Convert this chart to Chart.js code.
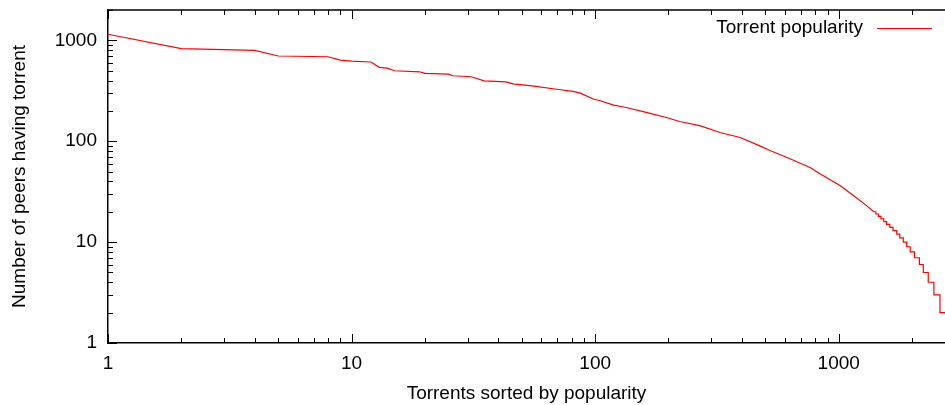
<!DOCTYPE html>
<html>
<head>
<meta charset="utf-8">
<script src="https://cdn.jsdelivr.net/npm/chart.js@4.4.1/dist/chart.umd.min.js"></script>
<style>
  html, body { margin: 0; padding: 0; background: #fff; }
  #wrap { width: 945px; height: 405px; }
</style>
</head>
<body>
<div id="wrap"><canvas id="popChart" width="945" height="405"></canvas></div>
<script>
// torrent rank (x) and number of peers (y)
const ranks = [1, 2, 4, 5, 8, 9, 10, 12, 13, 14, 15, 19, 20, 25, 26, 31, 35, 43, 46, 55,
  72, 81, 87, 98, 105, 119, 134, 162, 196, 222, 269, 325, 394, 474, 522, 631, 762, 837,
  1012, 1148, 1301, 1390, 1420, 1420, 1455, 1455, 1490, 1490, 1530, 1530, 1572,
  1572, 1620, 1620, 1670, 1670, 1730, 1730, 1780, 1780, 1840, 1840, 1900, 1900, 1965,
  1965, 2045, 2045, 2143, 2143, 2223, 2223, 2330, 2330, 2458, 2458, 2603, 2603, 2730];
const peers = [1150, 830, 795, 700, 688, 636, 622, 610, 540, 530, 500, 488, 470, 462, 446, 436, 397, 387, 370, 354,
  324, 312, 300, 262, 252, 228, 216, 193, 172, 157, 143, 122, 109, 90, 81, 67, 55, 47.5,
  36.4, 29, 23, 20, 20, 19, 19, 18, 18, 17, 17, 16, 16,
  15, 15, 14, 14, 13, 13, 12, 12, 11, 11, 10, 10, 9, 9,
  8, 8, 7, 7, 6, 6, 5, 5, 4, 4, 3, 3, 2, 2];
const xTickLabels = [1, 10, 100, 1000];
const yTickLabels = [1, 10, 100, 1000];
const seriesName = 'Torrent popularity';
const xTitle = 'Torrents sorted by popularity';
const yTitle = 'Number of peers having torrent';

const font = { family: 'Liberation Sans', size: 19 };

function isPow10(v) {
  const l = Math.log10(v);
  return Math.abs(l - Math.round(l)) < 1e-9;
}
function isStep(v) {
  const m = v / Math.pow(10, Math.floor(Math.log10(v) + 1e-9));
  return Math.abs(m - Math.round(m)) < 1e-6;
}

// gnuplot style: ticks pointing inward, top frame, key on the right
const frameAndKey = {
  id: 'frameAndKey',
  afterDraw(chart) {
    const { ctx, chartArea: a, scales: { x, y } } = chart;
    ctx.save();
    ctx.strokeStyle = '#000';
    ctx.lineWidth = 1.5;
    ctx.beginPath();
    ctx.moveTo(a.left, a.top);
    ctx.lineTo(a.right, a.top);
    ctx.stroke();
    ctx.lineWidth = 1;
    x.ticks.forEach(t => {
      if (!isStep(t.value)) return;
      const len = isPow10(t.value) ? 9 : 5;
      const px = Math.round(x.getPixelForValue(t.value)) + 0.5;
      ctx.beginPath();
      ctx.moveTo(px, a.bottom); ctx.lineTo(px, a.bottom - len);
      ctx.moveTo(px, a.top); ctx.lineTo(px, a.top + len);
      ctx.stroke();
    });
    y.ticks.forEach(t => {
      if (!isStep(t.value)) return;
      const len = isPow10(t.value) ? 9 : 5;
      const py = Math.round(y.getPixelForValue(t.value)) + 0.5;
      ctx.beginPath();
      ctx.moveTo(a.left, py); ctx.lineTo(a.left + len, py);
      ctx.stroke();
    });
    // key
    const ds = chart.data.datasets[0];
    const ky = a.top + 18;
    ctx.font = font.size + 'px ' + font.family;
    ctx.fillStyle = '#000';
    ctx.textAlign = 'right';
    ctx.textBaseline = 'middle';
    ctx.fillText(ds.label, a.right - 82, ky);
    ctx.strokeStyle = ds.borderColor;
    ctx.beginPath();
    ctx.moveTo(a.right - 68, ky + 0.5);
    ctx.lineTo(a.right - 13, ky + 0.5);
    ctx.stroke();
    ctx.restore();
  }
};

new Chart(document.getElementById('popChart'), {
  type: 'line',
  data: {
    datasets: [{
      label: seriesName,
      data: ranks.map((r, i) => ({ x: r, y: peers[i] })),
      borderColor: '#ff0000',
      borderWidth: 1.2,
      pointRadius: 0,
      tension: 0,
      fill: false
    }]
  },
  options: {
    responsive: false,
    animation: false,
    layout: { autoPadding: false, padding: { top: 10, right: 0, left: 0, bottom: 0 } },
    plugins: {
      legend: { display: false },
      tooltip: { enabled: false }
    },
    scales: {
      x: {
        type: 'logarithmic',
        min: 1,
        max: 2730,
        grid: { display: false, drawTicks: false },
        border: { display: true, color: '#000', width: 1.5 },
        ticks: {
          autoSkip: false,
          maxRotation: 0,
          padding: 9,
          color: '#000',
          font: font,
          callback: v => xTickLabels.some(t => Math.abs(t - v) < 1e-6) ? String(v) : ''
        },
        title: { display: true, text: xTitle, color: '#000', font: font, padding: { top: 3, bottom: 0 } },
        afterFit(scale) {
          scale.height = 62;
          scale.paddingLeft = 0;
          scale.paddingRight = 0;
        }
      },
      y: {
        type: 'logarithmic',
        min: 1,
        max: 2000,
        grid: { display: false, drawTicks: false },
        border: { display: true, color: '#000', width: 1.5 },
        ticks: {
          autoSkip: false,
          padding: 11,
          color: '#000',
          font: font,
          callback: v => yTickLabels.some(t => Math.abs(t - v) < 1e-6) ? String(v) : ''
        },
        title: { display: true, text: yTitle, color: '#000', font: font, padding: { top: 8, bottom: 0 } },
        afterFit(scale) {
          scale.width = 108;
          scale.paddingTop = 0;
          scale.paddingBottom = 0;
        }
      }
    }
  },
  plugins: [frameAndKey]
});
</script>
</body>
</html>
